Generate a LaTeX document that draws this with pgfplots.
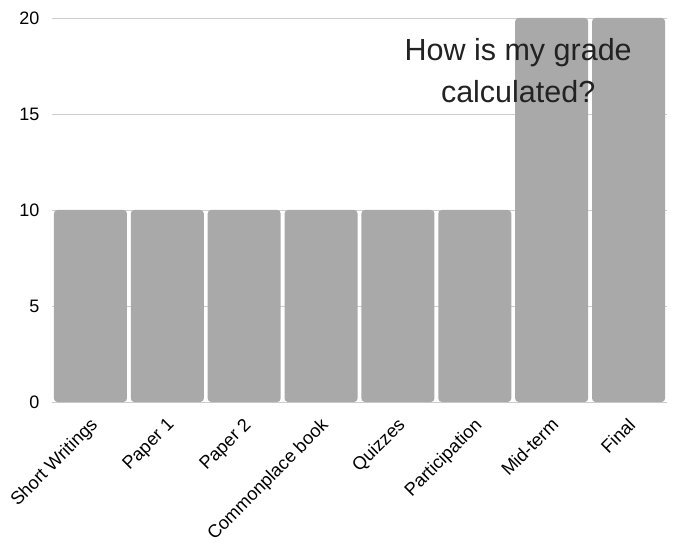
\documentclass[border=0pt]{standalone}
\usepackage{fontspec}
\setmainfont{Liberation Sans}
\usepackage{pgfplots}
\pgfplotsset{compat=1.18}
\definecolor{barc}{HTML}{A9A9A9}
\definecolor{gridc}{HTML}{CCCCCC}
\definecolor{titc}{HTML}{222222}
\begin{document}
\begin{tikzpicture}
\useasboundingbox (-52bp,-146bp) rectangle (622bp,402bp);
\begin{axis}[
  scale only axis,
  width=615bp, height=384bp,
  xmin=-0.5, xmax=7.5,
  ymin=0, ymax=20,
  ytick={0,5,10,15,20},
  xtick={0,1,2,3,4,5,6,7},
  xticklabels={Short Writings,Paper 1,Paper 2,Commonplace book,Quizzes,Participation,Mid-term,Final},
  axis line style={draw=none},
  major tick length=0pt,
  ymajorgrids,
  grid style={gridc, line width=0.8bp},
  /pgf/number format/assume math mode=true,
  yticklabel style={font=\fontsize{18bp}{21bp}\selectfont, anchor=east, xshift=-9bp},
  xticklabel style={font=\fontsize{18.2bp}{20bp}\selectfont, rotate=45, anchor=north east, xshift=-8bp, yshift=-6bp},
  clip=false,
]
\addplot[ybar, bar width=0.95, fill=barc, draw=none, rounded corners=3.5bp] coordinates {
(0,10) (1,10) (2,10) (3,10) (4,10) (5,10) (6,20) (7,20)};
\node[align=center, text=titc, font=\fontsize{30.5bp}{42bp}\selectfont] at (rel axis cs:0.758,0.862) {How is my grade\\calculated?};
\end{axis}
\end{tikzpicture}
\end{document}
